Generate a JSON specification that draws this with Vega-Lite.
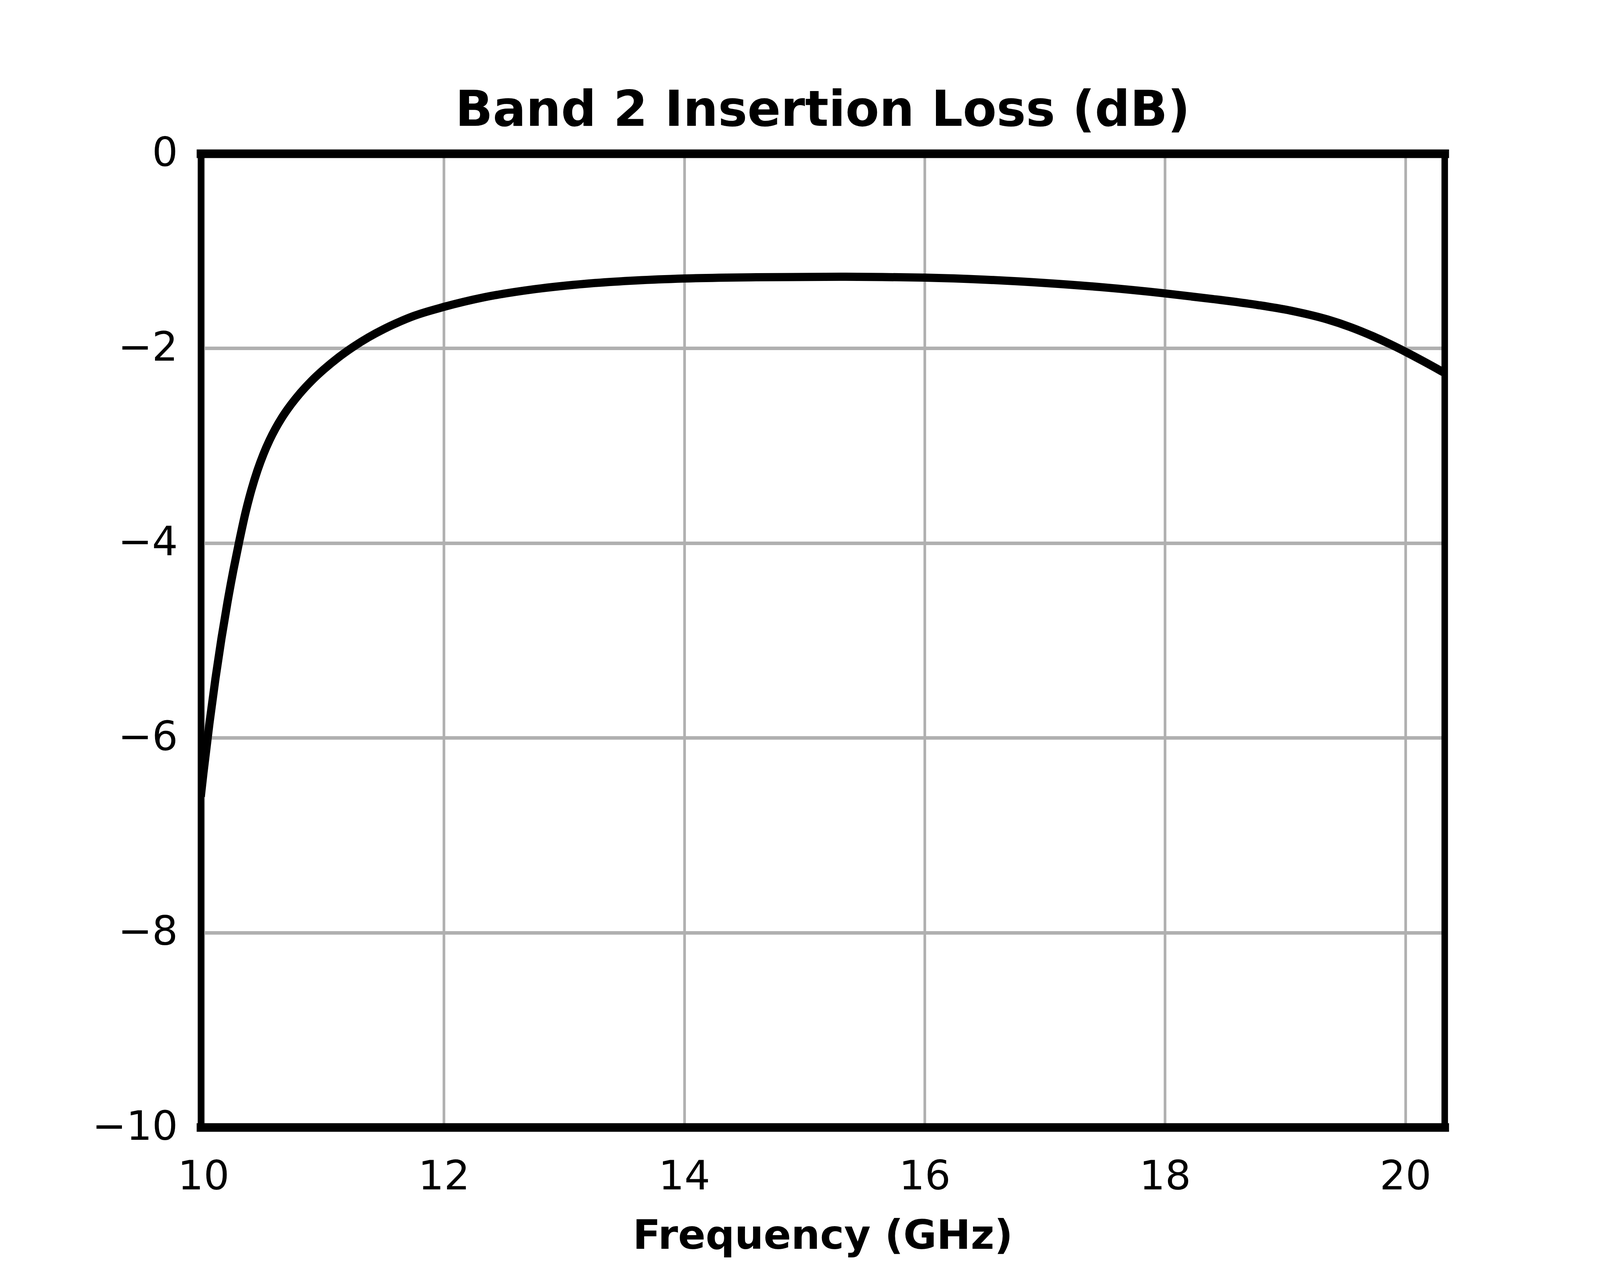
{
  "$schema": "https://vega.github.io/schema/vega-lite/v6.json",
  "width": 4096,
  "height": 3240,
  "autosize": {"type": "fit", "contains": "padding"},
  "padding": {"left": 235, "right": 398, "top": 221, "bottom": 24},
  "background": "white",
  "title": {
    "text": "Band 2 Insertion Loss (dB)",
    "font": "DejaVu Sans",
    "fontSize": 126,
    "fontWeight": "bold",
    "color": "black",
    "anchor": "middle",
    "frame": "group",
    "baseline": "alphabetic",
    "limit": 0,
    "offset": -107
  },
  "config": {
    "view": {"stroke": null},
    "font": "DejaVu Sans",
    "axis": {
      "domainColor": "black",
      "domainCap": "square",
      "ticks": false,
      "tickSize": 0,
      "gridColor": "#b0b0b0",
      "gridOpacity": 1,
      "labelFont": "DejaVu Sans",
      "labelFontSize": 104,
      "labelColor": "black",
      "labelFlush": false,
      "labelOverlap": false,
      "labelBound": false,
      "labelLimit": 0,
      "titleFont": "DejaVu Sans",
      "titleFontSize": 104,
      "titleFontWeight": "bold",
      "titleColor": "black",
      "titleLimit": 0,
      "minExtent": 0,
      "maxExtent": 3000
    }
  },
  "data": {
    "values": [
      {"freq": 9.978, "loss": -6.604},
      {"freq": 10.0, "loss": -6.362},
      {"freq": 10.05, "loss": -5.852},
      {"freq": 10.1, "loss": -5.393},
      {"freq": 10.15, "loss": -4.98},
      {"freq": 10.2, "loss": -4.609},
      {"freq": 10.25, "loss": -4.274},
      {"freq": 10.295, "loss": -4.0},
      {"freq": 10.35, "loss": -3.688},
      {"freq": 10.4, "loss": -3.451},
      {"freq": 10.45, "loss": -3.252},
      {"freq": 10.5, "loss": -3.085},
      {"freq": 10.55, "loss": -2.944},
      {"freq": 10.6, "loss": -2.823},
      {"freq": 10.65, "loss": -2.718},
      {"freq": 10.7, "loss": -2.626},
      {"freq": 10.8, "loss": -2.468},
      {"freq": 10.9, "loss": -2.334},
      {"freq": 11.0, "loss": -2.219},
      {"freq": 11.125, "loss": -2.092},
      {"freq": 11.25, "loss": -1.982},
      {"freq": 11.375, "loss": -1.886},
      {"freq": 11.5, "loss": -1.803},
      {"freq": 11.625, "loss": -1.731},
      {"freq": 11.75, "loss": -1.668},
      {"freq": 12.0, "loss": -1.575},
      {"freq": 12.34, "loss": -1.475},
      {"freq": 12.76, "loss": -1.392},
      {"freq": 13.19, "loss": -1.336},
      {"freq": 13.6, "loss": -1.303},
      {"freq": 14.0, "loss": -1.283},
      {"freq": 14.6, "loss": -1.27},
      {"freq": 15.3, "loss": -1.265},
      {"freq": 15.65, "loss": -1.268},
      {"freq": 16.0, "loss": -1.274},
      {"freq": 16.5, "loss": -1.295},
      {"freq": 17.0, "loss": -1.329},
      {"freq": 17.46, "loss": -1.371},
      {"freq": 18.0, "loss": -1.436},
      {"freq": 18.4, "loss": -1.494},
      {"freq": 18.78, "loss": -1.557},
      {"freq": 19.07, "loss": -1.619},
      {"freq": 19.35, "loss": -1.703},
      {"freq": 19.54, "loss": -1.781},
      {"freq": 19.73, "loss": -1.876},
      {"freq": 19.92, "loss": -1.985},
      {"freq": 20.0, "loss": -2.035},
      {"freq": 20.147, "loss": -2.131},
      {"freq": 20.3, "loss": -2.235},
      {"freq": 20.326, "loss": -2.253}
    ]
  },
  "resolve": {"axis": {"x": "independent", "y": "independent"}},
  "layer": [
    {
      "mark": {
        "type": "line",
        "color": "black",
        "strokeWidth": 21,
        "interpolate": "monotone",
        "clip": true
      },
      "encoding": {
        "x": {
          "field": "freq",
          "type": "quantitative",
          "scale": {"domain": [9.978, 20.326], "nice": false, "zero": false},
          "axis": {
            "orient": "bottom",
            "values": [10, 12, 14, 16, 18, 20],
            "grid": true,
            "gridWidth": 6.8,
            "domainWidth": 22,
            "labelPadding": 76,
            "title": "Frequency (GHz)",
            "titlePadding": 49
          }
        },
        "y": {
          "field": "loss",
          "type": "quantitative",
          "scale": {"domain": [-10, 0], "nice": false, "zero": false},
          "axis": {
            "orient": "left",
            "values": [-10, -8, -6, -4, -2, 0],
            "grid": true,
            "gridWidth": 9,
            "domainWidth": 16.7,
            "labelPadding": 59,
            "title": null
          }
        }
      }
    },
    {
      "mark": {"type": "line", "opacity": 0},
      "encoding": {
        "x": {
          "field": "freq",
          "type": "quantitative",
          "axis": {
            "orient": "top",
            "labels": false,
            "grid": false,
            "domainWidth": 22,
            "title": null
          }
        },
        "y": {
          "field": "loss",
          "type": "quantitative",
          "axis": {
            "orient": "right",
            "labels": false,
            "grid": false,
            "domainWidth": 16.7,
            "title": null
          }
        }
      }
    }
  ]
}
